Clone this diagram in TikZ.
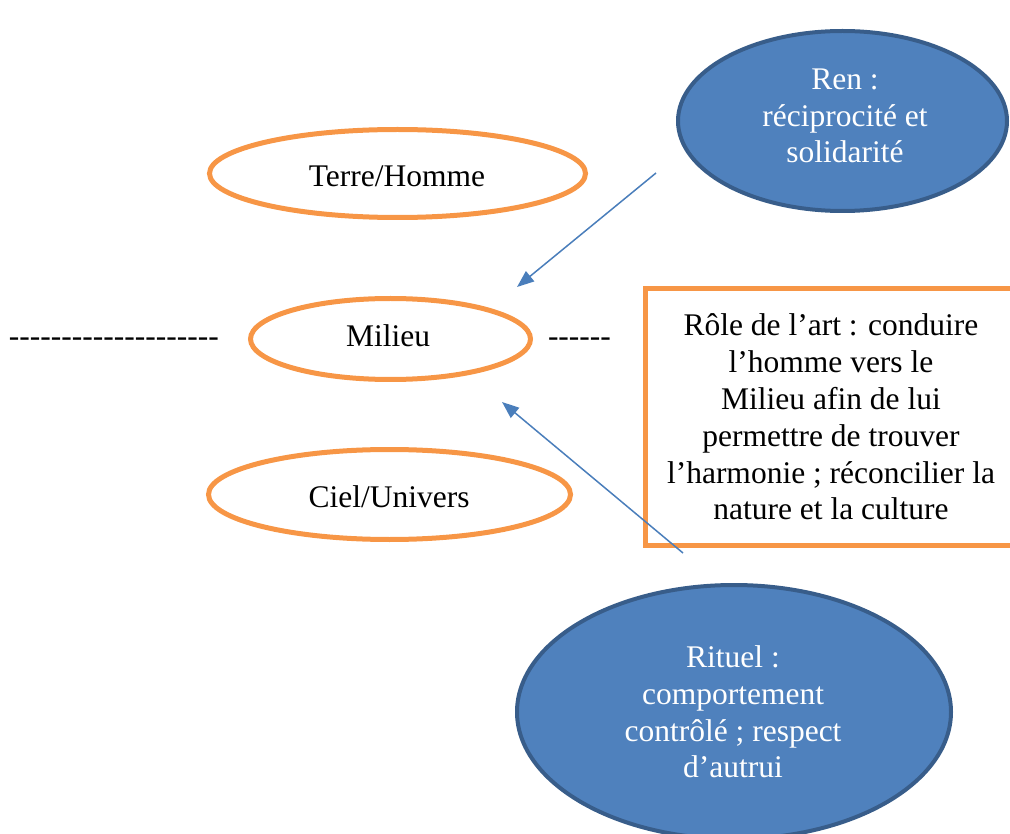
\documentclass[tikz,border=0pt]{standalone}
\usepackage{fontspec}
\setmainfont{Liberation Serif}
\usetikzlibrary{shapes.geometric,arrows.meta}
\definecolor{orng}{HTML}{F79646}
\definecolor{bfill}{HTML}{4F81BD}
\definecolor{bedge}{HTML}{385D8A}
\definecolor{arrc}{HTML}{4A7EBB}
\newcommand\hyrow[1]{\foreach\k in {1,...,#1}{-\kern0pt}}
\begin{document}
\begin{tikzpicture}[x=1pt,y=-1pt,
  oell/.style={ellipse,draw=orng,line width=5pt,inner sep=0pt,outer sep=0pt},
  bell/.style={ellipse,draw=bedge,fill=bfill,line width=4pt,inner sep=0pt,outer sep=0pt},
  obox/.style={rectangle,draw=orng,line width=5pt,inner sep=0pt,outer sep=0pt},
  txt/.style={font=\fontsize{31.5}{36.8}\selectfont,inner sep=0pt,outer sep=0pt,align=center},
  wtxt/.style={txt,text=white},
  conn/.style={draw=arrc,line width=1.5pt,-{Triangle[length=17pt,width=13pt]}}]
\useasboundingbox (0,0) rectangle (1010,834);
\clip (0,0) rectangle (1010,834);
% orange ellipses
\node[oell,minimum width=376pt,minimum height=88pt] (terre) at (397.5,173.5) {};
\node[oell,minimum width=280pt,minimum height=81pt] (milieu) at (390.5,339) {};
\node[oell,minimum width=362pt,minimum height=90pt] (ciel) at (389.5,494.5) {};
% blue ellipses
\node[bell,minimum width=329pt,minimum height=180pt] (ren) at (842.5,121) {};
\node[bell,minimum width=434pt,minimum height=254pt] (rituel) at (734,712) {};
% box
\node[obox,minimum width=371.5pt,minimum height=257pt] (role) at (831.25,417) {};
% texts
\node[txt,anchor=base] (terreT) at (397,187) {Terre/Homme};
\node[txt,anchor=base] (milieuT) at (388,347) {Milieu};
\node[txt,anchor=base] (cielT) at (389,507) {Ciel/Univers};
\node[wtxt] (renT) at (845,116) {Ren :\\réciprocité et\\solidarité};
\node[txt] (roleT) at (831,417) {Rôle de l’art : conduire\\l’homme vers le\\Milieu afin de lui\\permettre de trouver\\l’harmonie ; réconcilier la\\nature et la culture};
\node[wtxt] (rituelT) at (733,712) {Rituel :\\comportement\\contrôlé ; respect\\d’autrui};
% dashed rows (hyphens)
\node[txt,anchor=base west] (dashL) at (9,347) {\hyrow{20}};
\node[txt,anchor=base west] (dashR) at (548,347) {\hyrow{6}};
% connectors
\coordinate (a1s) at (656,173);
\coordinate (a1e) at (517,287);
\coordinate (a2s) at (683,553);
\coordinate (a2e) at (502,402);
\draw[conn] (a1s) -- (a1e);
\draw[conn] (a2s) -- (a2e);
\end{tikzpicture}
\end{document}
